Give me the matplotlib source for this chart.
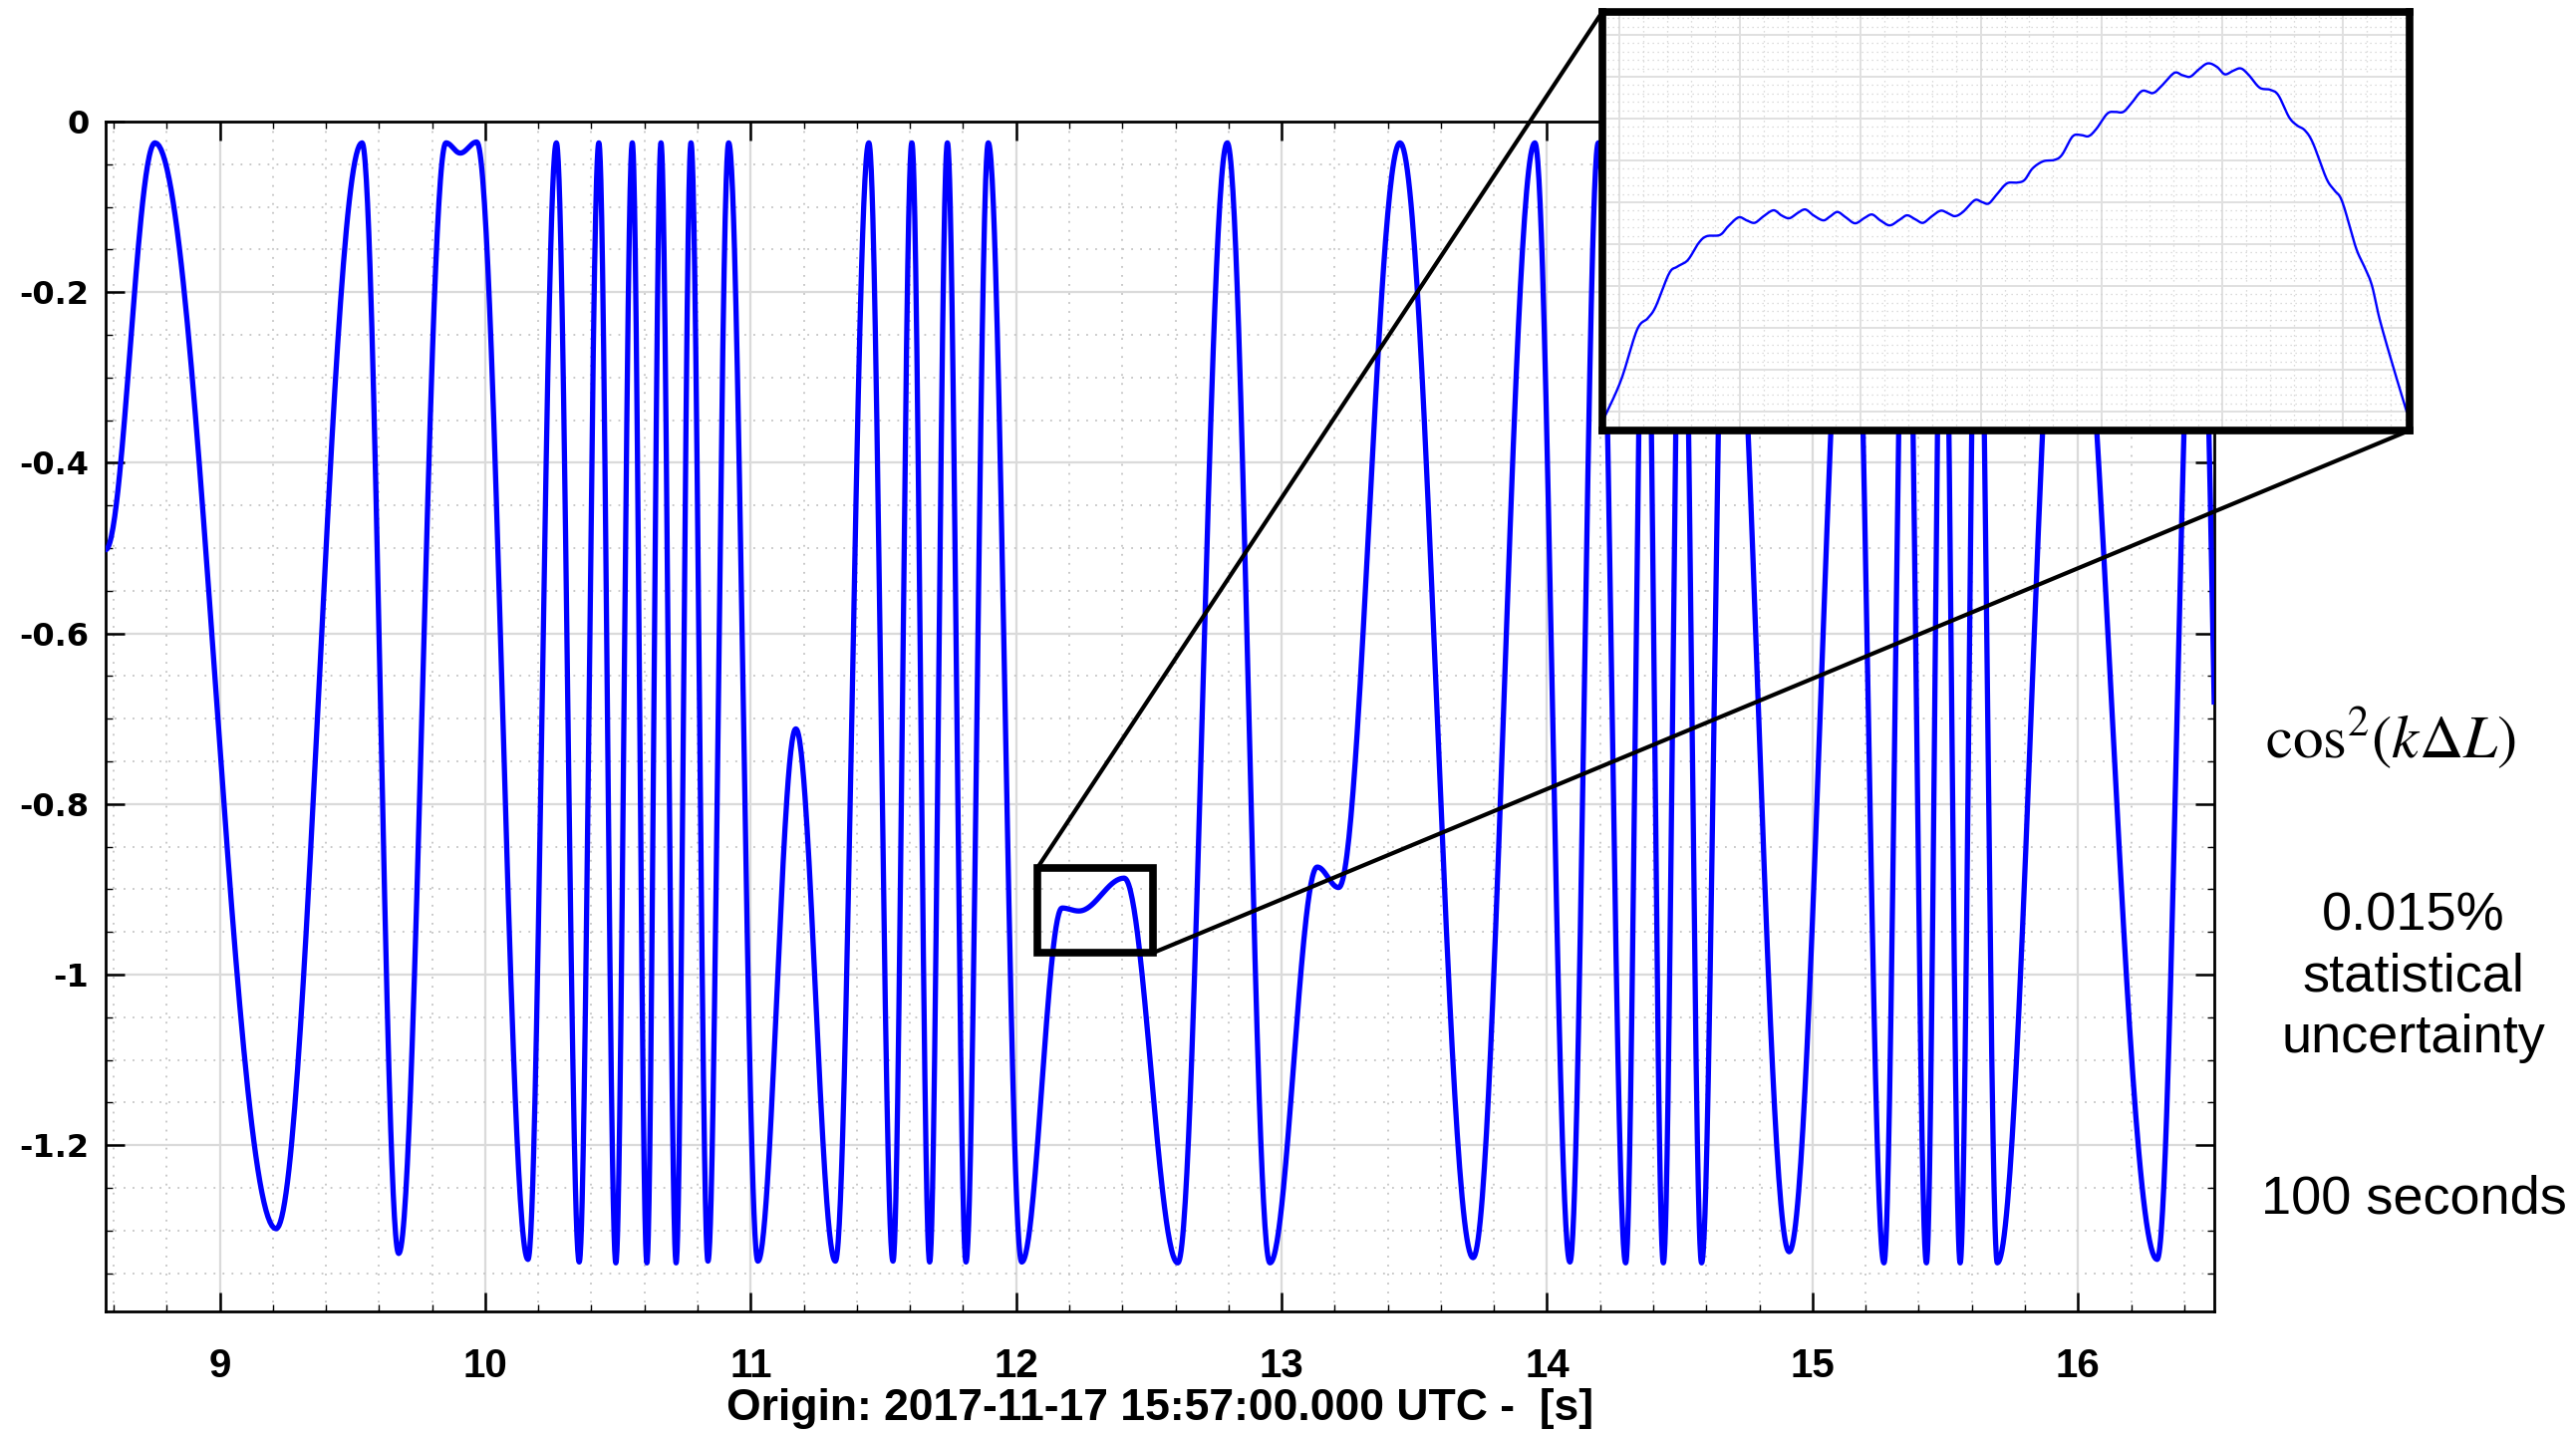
import numpy as np
import matplotlib
matplotlib.use('Agg')
from matplotlib import pyplot as plt
from matplotlib.patches import Rectangle, ConnectionPatch
from matplotlib.ticker import MultipleLocator, FormatStrFormatter

# turning points of the interferometer trace
TURN_T = [8.570, 8.756, 9.212, 9.536, 9.674, 9.852, 9.906, 9.968, 10.161, 10.268,
          10.354, 10.428, 10.492, 10.554, 10.609, 10.662, 10.719, 10.775, 10.839, 10.917,
          11.027, 11.170, 11.319, 11.445, 11.536, 11.607, 11.674, 11.741, 11.811, 11.895,
          12.021, 12.173, 12.236, 12.407, 12.609, 12.795, 12.956, 13.134, 13.215, 13.446,
          13.721, 13.954, 14.086, 14.193, 14.296, 14.370, 14.438, 14.508, 14.582, 14.677,
          14.912, 15.150, 15.269, 15.353, 15.429, 15.492, 15.556, 15.622, 15.696, 15.954,
          16.298, 16.451, 16.575]
TURN_V = [-0.502, -0.025, -1.298, -0.025, -1.327, -0.025, -0.037, -0.024, -1.334, -0.025,
          -1.337, -0.025, -1.338, -0.025, -1.338, -0.025, -1.338, -0.025, -1.336, -0.025,
          -1.336, -0.712, -1.336, -0.025, -1.336, -0.025, -1.337, -0.025, -1.337, -0.025,
          -1.337, -0.922, -0.9255, -0.887, -1.338, -0.025, -1.338, -0.874, -0.898, -0.025,
          -1.332, -0.025, -1.337, -0.025, -1.338, -0.025, -1.338, -0.025, -1.338, -0.025,
          -1.325, -0.025, -1.338, -0.025, -1.338, -0.025, -1.338, -0.025, -1.338, -0.025,
          -1.334, -0.025, -1.336]

# zoomed section shown in the inset
ZOOM_T = [12.0819, 12.0911, 12.0997, 12.1055, 12.1098, 12.1170, 12.1213, 12.1271, 12.1328, 12.1372,
          12.1444, 12.1487, 12.1544, 12.1588, 12.1631, 12.1674, 12.1732, 12.1775, 12.1818, 12.1861,
          12.1904, 12.1948, 12.2000, 12.2034, 12.2077, 12.2120, 12.2172, 12.2221, 12.2264, 12.2308,
          12.2359, 12.2408, 12.2452, 12.2495, 12.2538, 12.2581, 12.2633, 12.2673, 12.2711, 12.2754,
          12.2817, 12.2855, 12.2892, 12.2933, 12.2990, 12.3042, 12.3085, 12.3129, 12.3186, 12.3244,
          12.3287, 12.3344, 12.3388, 12.3431, 12.3474, 12.3532, 12.3575, 12.3618, 12.3661, 12.3719,
          12.3777, 12.3820, 12.3892, 12.3935, 12.3978, 12.4021, 12.4073, 12.4122, 12.4165, 12.4209,
          12.4252, 12.4295, 12.4353, 12.4410, 12.4454, 12.4511, 12.4554, 12.4597, 12.4641, 12.4713,
          12.4756, 12.4799, 12.4871, 12.4914, 12.4958, 12.5001, 12.5073, 12.5145]
ZOOM_V = [-0.9716, -0.9625, -0.9505, -0.9477, -0.9449, -0.9370, -0.9354, -0.9338, -0.9298, -0.9281,
          -0.9278, -0.9258, -0.9236, -0.9243, -0.9249, -0.9235, -0.9219, -0.9231, -0.9238, -0.9226,
          -0.9217, -0.9231, -0.9243, -0.9235, -0.9223, -0.9235, -0.9250, -0.9238, -0.9229, -0.9243,
          -0.9255, -0.9243, -0.9231, -0.9240, -0.9249, -0.9235, -0.9220, -0.9226, -0.9233, -0.9223,
          -0.9195, -0.9199, -0.9203, -0.9183, -0.9155, -0.9153, -0.9147, -0.9119, -0.9102, -0.9099,
          -0.9087, -0.9043, -0.9039, -0.9042, -0.9024, -0.8988, -0.8984, -0.8984, -0.8964, -0.8934,
          -0.8939, -0.8924, -0.8891, -0.8896, -0.8900, -0.8884, -0.8868, -0.8876, -0.8894, -0.8886,
          -0.8880, -0.8896, -0.8926, -0.8931, -0.8944, -0.8996, -0.9016, -0.9028, -0.9059, -0.9143,
          -0.9171, -0.9199, -0.9307, -0.9350, -0.9398, -0.9481, -0.9593, -0.9699]

X_RANGE = (8.570, 16.5125)
Y_RANGE = (-1.395, 0.0)
ZOOM_X = (12.081, 12.516)
ZOOM_Y = (-0.9745, -0.8745)

BLUE = '#0000ff'
NARROW = ['Liberation Sans Narrow', 'Liberation Sans', 'DejaVu Sans']


def cosine_path(t, v, n=60):
    # smooth half-wave between successive turning points
    xs, ys = [], []
    for i in range(len(t) - 1):
        s = np.linspace(0, 1, n, endpoint=False)
        xs.append(t[i] + (t[i + 1] - t[i]) * s)
        ys.append(v[i] + (v[i + 1] - v[i]) * (1 - np.cos(np.pi * s)) / 2)
    xs.append([t[-1]])
    ys.append([v[-1]])
    return np.concatenate(xs), np.concatenate(ys)


def smooth_path(t, v, n=12):
    # catmull-rom rendering through the read points
    p = np.column_stack([t, v])
    p = np.vstack([p[0], p, p[-1]])
    s = np.linspace(0, 1, n, endpoint=False)[:, None]
    out = []
    for i in range(1, len(p) - 2):
        p0, p1, p2, p3 = p[i - 1], p[i], p[i + 1], p[i + 2]
        out.append(0.5 * (2 * p1 + (-p0 + p2) * s + (2 * p0 - 5 * p1 + 4 * p2 - p3) * s ** 2
                          + (-p0 + 3 * p1 - 3 * p2 + p3) * s ** 3))
    out.append(p[-2][None, :])
    out = np.vstack(out)
    return out[:, 0], out[:, 1]


def main():
    plt.rcParams['mathtext.fontset'] = 'stix'
    fig = plt.figure(figsize=(25.85, 14.38), dpi=100)
    ax = fig.add_axes([0.0410, 0.0848, 0.8185, 0.8304])

    x, y = cosine_path(TURN_T, TURN_V)
    ax.plot(x, y, color=BLUE, lw=3.8, zorder=3)
    ax.set_xlim(*X_RANGE)
    ax.set_ylim(*Y_RANGE)

    ax.xaxis.set_major_locator(MultipleLocator(1))
    ax.xaxis.set_minor_locator(MultipleLocator(0.2))
    ax.yaxis.set_major_locator(MultipleLocator(0.2))
    ax.yaxis.set_minor_locator(MultipleLocator(0.05))
    ax.yaxis.set_major_formatter(FormatStrFormatter('%g'))
    ax.grid(which='major', color='#dadada', lw=1.6, ls='-')
    ax.grid(which='minor', color='#c4c4c4', lw=1.3, ls=(0, (1, 4)))
    ax.set_axisbelow(True)
    ax.tick_params(which='both', direction='in', top=True, right=True)
    ax.tick_params(which='major', length=14, width=1.8)
    ax.tick_params(which='minor', length=5, width=1.0)
    ax.tick_params(axis='x', pad=26)
    ax.tick_params(axis='y', pad=12)
    for lab in ax.get_xticklabels():
        lab.set_family(NARROW)
        lab.set_fontsize(29)
        lab.set_fontweight('bold')
    for lab in ax.get_yticklabels():
        lab.set_fontsize(23)
        lab.set_fontweight('bold')
    for sp in ax.spines.values():
        sp.set_linewidth(2)
    ax.set_xlabel('Origin: 2017-11-17 15:57:00.000 UTC -  [s]', family=NARROW,
                  fontsize=32, fontweight='bold', labelpad=2)

    # box marking the zoomed section
    ax.add_patch(Rectangle((ZOOM_X[0], ZOOM_Y[0]), ZOOM_X[1] - ZOOM_X[0],
                           ZOOM_Y[1] - ZOOM_Y[0], fill=False, ec='black', lw=5.5, zorder=5))

    ins = fig.add_axes([0.622, 0.6996, 0.3133, 0.2921], zorder=10)
    zx, zy = smooth_path(ZOOM_T, ZOOM_V)
    ins.plot(zx, zy, color=BLUE, lw=1.7)
    ins.set_xlim(*ZOOM_X)
    ins.set_ylim(*ZOOM_Y)
    ins.xaxis.set_major_locator(MultipleLocator(0.065))
    ins.xaxis.set_minor_locator(MultipleLocator(0.013))
    ins.yaxis.set_major_locator(MultipleLocator(0.01))
    ins.yaxis.set_minor_locator(MultipleLocator(0.002))
    ins.grid(which='major', color='#e0e0e0', lw=1.4)
    ins.grid(which='minor', color='#d0d0d0', lw=0.9, ls=(0, (1, 3)))
    ins.tick_params(which='both', length=0, labelbottom=False, labelleft=False)
    for sp in ins.spines.values():
        sp.set_linewidth(5.5)

    for a, b in [((ZOOM_X[0], ZOOM_Y[1]), (0, 1)), ((ZOOM_X[1], ZOOM_Y[0]), (1, 0))]:
        con = ConnectionPatch(xyA=a, coordsA=ax.transData, xyB=b, coordsB=ins.transAxes,
                              color='black', lw=3.0, zorder=6)
        fig.add_artist(con)

    fig.text(0.928, 0.485, r'$\mathrm{cos}^2(k\Delta L)$', fontsize=44, ha='center', va='center')
    fig.text(0.937, 0.318, '0.015%\nstatistical\nuncertainty', family='Liberation Sans',
             fontsize=39, ha='center', va='center', linespacing=1.3)
    fig.text(0.937, 0.163, '100 seconds', family='Liberation Sans', fontsize=39,
             ha='center', va='center')

    fig.savefig('out.png', dpi=100)


if __name__ == '__main__':
    main()
